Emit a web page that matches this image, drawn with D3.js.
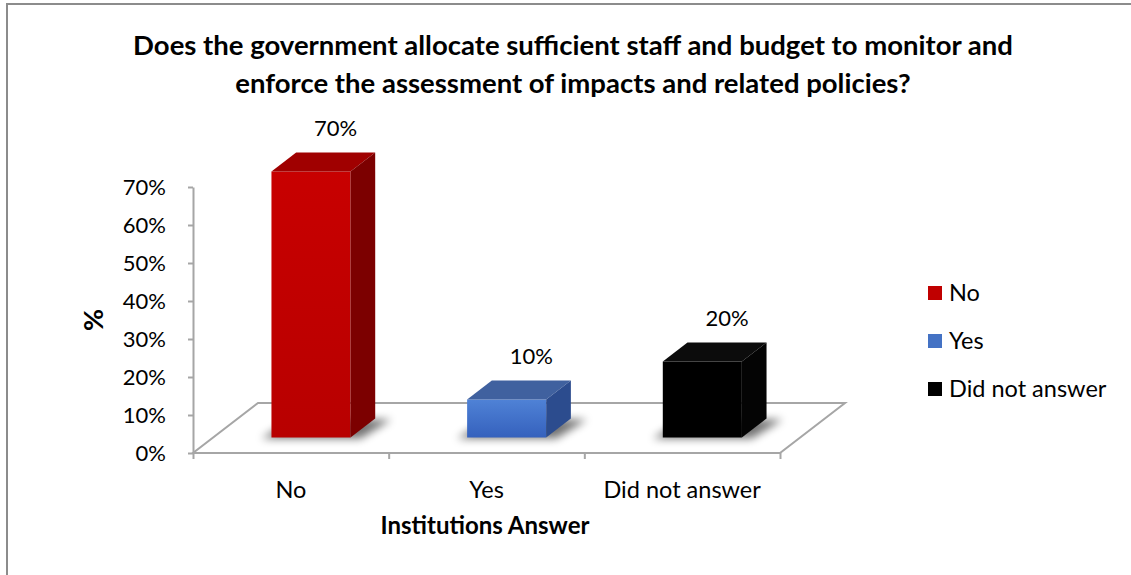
<!DOCTYPE html>
<html>
<head>
<meta charset="utf-8">
<script src="https://cdn.jsdelivr.net/npm/d3@7"></script>
<style>
  html, body { margin: 0; padding: 0; background: #fff; }
  svg { display: block; font-family: Lato, "Open Sans", sans-serif; }
</style>
</head>
<body>
<svg id="chart" width="1131" height="575"></svg>
<script>
// Survey answers, in percent
const categories = ["No", "Yes", "Did not answer"];
const values = [70, 10, 20];
const yTicks = [0, 10, 20, 30, 40, 50, 60, 70];
const yTickLabels = ["0%", "10%", "20%", "30%", "40%", "50%", "60%", "70%"];
const titleLines = [
  "Does the government allocate sufficient staff and budget to monitor and",
  "enforce the assessment of impacts and related policies?"
];

// Face colours for each series: front, top, side
const palette = {
  "No":             { front: ["#c80000", "#b80000"], top: "#a00000", side: "#7c0000", key: "#c00000" },
  "Yes":            { front: ["#4f82d6", "#3561bd"], top: "#40619f", side: "#2c4c8e", key: "#4472c4" },
  "Did not answer": { front: ["#000000", "#000000"], top: "#0c0c0c", side: "#040404", key: "#000000" }
};

const svg = d3.select("#chart");
const defs = svg.append("defs");

// Oblique projection of the floor depth
const DX = 65, DY = -50;
const barFront = 0.31, barBack = 0.69;

const x = d3.scaleBand().domain(categories).range([193, 780])
  .paddingInner(0.596).paddingOuter(0.298);
const xEdge = d3.scaleLinear().domain([0, categories.length]).range([193, 780]);
const y = d3.scaleLinear().domain([0, 70]).range([453, 187]);

// Outer chart frame (top and left edges visible)
svg.append("rect")
  .attr("x", 7).attr("y", 4).attr("width", 1140).attr("height", 600)
  .attr("fill", "none").attr("stroke", "#8c8c8c").attr("stroke-width", 2);

// Title
svg.append("g").selectAll("text").data(titleLines).join("text")
  .attr("x", 573).attr("y", (d, i) => 55 + i * 38)
  .attr("text-anchor", "middle")
  .attr("font-weight", "bold").attr("font-size", 27.5).attr("fill", "#000")
  .text(d => d);

// Floor
const x0 = xEdge.range()[0], x1 = xEdge.range()[1], y0 = y(0);
svg.append("path")
  .attr("d", d3.line()([[x0, y0], [x1, y0], [x1 + DX, y0 + DY], [x0 + DX, y0 + DY]]) + "Z")
  .attr("fill", "#fff").attr("stroke", "#a6a6a6").attr("stroke-width", 2)
  .attr("stroke-linejoin", "miter");

// Y axis
const yAxis = svg.append("g").attr("transform", `translate(${x0},0)`)
  .call(d3.axisLeft(y).tickValues(yTicks).tickFormat((d, i) => yTickLabels[i])
    .tickSize(5).tickSizeOuter(0).tickPadding(22));
yAxis.select(".domain").attr("stroke", "#a6a6a6").attr("stroke-width", 2);
yAxis.selectAll(".tick line").attr("stroke", "#a6a6a6").attr("stroke-width", 2);
yAxis.selectAll(".tick text").attr("font-size", 22).attr("fill", "#000")
  .attr("font-family", "Lato, sans-serif");

// X axis category boundary ticks
const xAxis = svg.append("g").attr("transform", `translate(0,${y0})`)
  .call(d3.axisBottom(xEdge).tickValues(d3.range(categories.length + 1))
    .tickFormat("").tickSize(6).tickSizeOuter(0));
xAxis.select(".domain").remove();
xAxis.selectAll(".tick line").attr("stroke", "#a6a6a6").attr("stroke-width", 2);

// Category labels
svg.append("g").selectAll("text").data(categories).join("text")
  .attr("x", d => x(d) + x.bandwidth() / 2)
  .attr("y", 498)
  .attr("text-anchor", "middle").attr("font-size", 23.5).attr("fill", "#000")
  .text(d => d);

// Axis titles
svg.append("text")
  .attr("x", 485).attr("y", 534).attr("text-anchor", "middle")
  .attr("font-weight", "bold").attr("font-size", 24).attr("fill", "#000")
  .text("Institutions Answer");
svg.append("text")
  .attr("transform", "translate(103,320) rotate(-90)")
  .attr("text-anchor", "middle")
  .attr("font-weight", "bold").attr("font-size", 27).attr("fill", "#000")
  .text("%");

// Shadow blur
defs.append("filter").attr("id", "shadowBlur")
  .attr("x", "-50%").attr("y", "-50%").attr("width", "200%").attr("height", "200%")
  .append("feGaussianBlur").attr("stdDeviation", 4);

// Front-face gradients
categories.forEach((c, i) => {
  const g = defs.append("linearGradient").attr("id", "front" + i)
    .attr("x1", 0).attr("y1", 0).attr("x2", 0).attr("y2", 1);
  g.append("stop").attr("offset", "0%").attr("stop-color", palette[c].front[0]);
  g.append("stop").attr("offset", "100%").attr("stop-color", palette[c].front[1]);
});

const fx = DX * barFront, fy = DY * barFront;
const dx = DX * (barBack - barFront), dy = DY * (barBack - barFront);
const w = x.bandwidth();

const bars = svg.append("g").selectAll("g").data(categories).join("g");

// Soft shadow of each bar on the floor
bars.append("path")
  .attr("d", c => {
    const l = x(c) + fx - 10, r = x(c) + fx + w + 10, b = y0 + fy + 1;
    return d3.line()([[l, b], [r, b], [r + dx + 6, b + dy], [l + dx + 6, b + dy]]) + "Z";
  })
  .attr("fill", "#000").attr("opacity", 0.55).attr("filter", "url(#shadowBlur)");

// Front face
bars.append("rect")
  .attr("x", c => x(c) + fx)
  .attr("y", (c, i) => y(values[i]) + fy)
  .attr("width", w)
  .attr("height", (c, i) => y0 - y(values[i]))
  .attr("fill", (c, i) => `url(#front${i})`);

// Top face
bars.append("path")
  .attr("d", (c, i) => {
    const l = x(c) + fx, t = y(values[i]) + fy;
    return d3.line()([[l, t], [l + dx, t + dy], [l + w + dx, t + dy], [l + w, t]]) + "Z";
  })
  .attr("fill", c => palette[c].top);

// Side face
bars.append("path")
  .attr("d", (c, i) => {
    const r = x(c) + fx + w, t = y(values[i]) + fy, b = y0 + fy;
    return d3.line()([[r, t], [r + dx, t + dy], [r + dx, b + dy], [r, b]]) + "Z";
  })
  .attr("fill", c => palette[c].side);

// Value labels
bars.append("text")
  .attr("x", c => x(c) + fx + dx + w / 2)
  .attr("y", (c, i) => y(values[i]) + fy + dy - 17)
  .attr("text-anchor", "middle").attr("font-size", 22).attr("fill", "#000")
  .text((c, i) => values[i] + "%");

// Legend
const legend = svg.append("g").selectAll("g").data(categories).join("g")
  .attr("transform", (d, i) => `translate(928,${293 + i * 48})`);
legend.append("rect")
  .attr("x", 0).attr("y", -7).attr("width", 14).attr("height", 14)
  .attr("fill", d => palette[d].key);
legend.append("text")
  .attr("x", 21).attr("y", 0).attr("dy", "0.35em")
  .attr("font-size", 23.5).attr("fill", "#000")
  .text(d => d);
</script>
</body>
</html>
